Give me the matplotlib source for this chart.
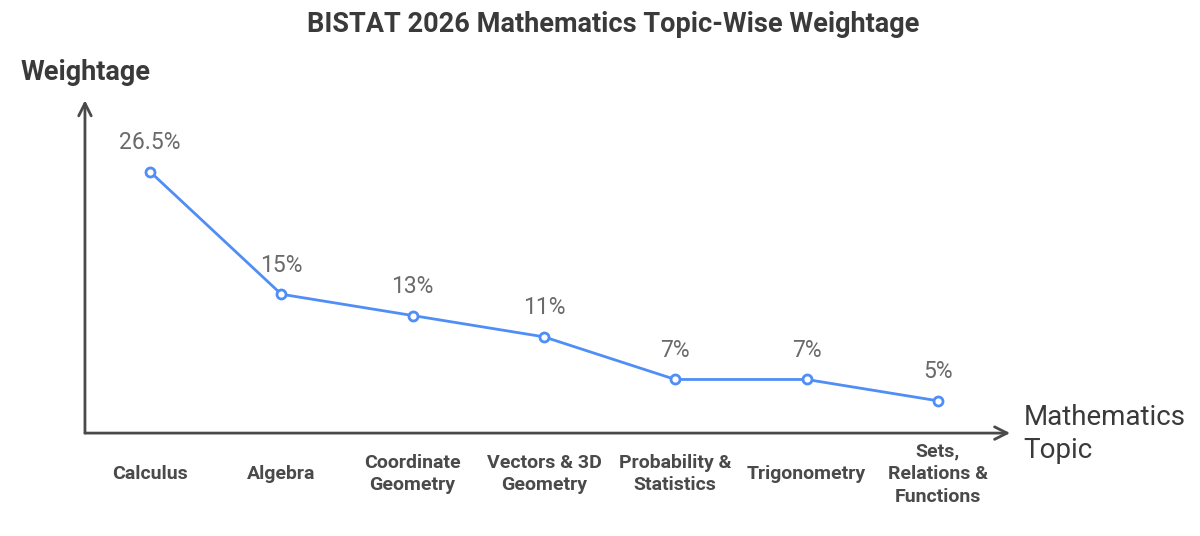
import matplotlib

matplotlib.use("Agg")
import matplotlib.pyplot as plt
from matplotlib.transforms import blended_transform_factory

# data
topics = [
    "Calculus",
    "Algebra",
    "Coordinate\nGeometry",
    "Vectors & 3D\nGeometry",
    "Probability &\nStatistics",
    "Trigonometry",
    "Sets,\nRelations &\nFunctions",
]
weightage = [26.5, 15, 13, 11, 7, 7, 5]
value_labels = ["26.5%", "15%", "13%", "11%", "7%", "7%", "5%"]

LINE_COLOR = "#4F8EF7"
AXIS_COLOR = "#4a4a4a"
TEXT_COLOR = "#3a3a3a"

plt.rcParams["font.family"] = ["Roboto", "DejaVu Sans"]

fig = plt.figure(figsize=(12.0, 5.36), dpi=100)
ax = fig.add_axes([0.0708, 0.192, 0.771, 0.621])

x = list(range(len(topics)))
ax.plot(x, weightage, color=LINE_COLOR, linewidth=2.0, marker="o",
        markersize=6.5, markerfacecolor="white", markeredgecolor=LINE_COLOR,
        markeredgewidth=2.0, zorder=3)

for xi, v, lab in zip(x, weightage, value_labels):
    ax.annotate(lab, (xi, v), xytext=(0, 21), textcoords="offset points",
                ha="center", va="center", fontsize=16.5, color="#6a6a6a")

ax.set_xlim(-0.495, 6.55)
ax.set_ylim(1.97, 33.2)
for s in ax.spines.values():
    s.set_visible(False)
ax.set_xticks([])
ax.set_yticks([])
ax.patch.set_alpha(0)

# axis arrows
ax.annotate("", xy=(0, 1.0), xytext=(0, 0), xycoords="axes fraction",
            arrowprops=dict(arrowstyle="->,head_length=0.9,head_width=0.45",
                            color=AXIS_COLOR, lw=2.0, shrinkA=0, shrinkB=0),
            annotation_clip=False)
ax.annotate("", xy=(1.0, 0), xytext=(0, 0), xycoords="axes fraction",
            arrowprops=dict(arrowstyle="->,head_length=0.9,head_width=0.45",
                            color=AXIS_COLOR, lw=2.0, shrinkA=0, shrinkB=0),
            annotation_clip=False)

# category labels under x axis
trans = blended_transform_factory(ax.transData, fig.transFigure)
for xi, t in zip(x, topics):
    ax.text(xi, 1 - 474 / 536, t, transform=trans, ha="center", va="center",
            fontsize=14, fontweight="bold", color="#4a4a4a", linespacing=1.35)

fig.text(0.511, 1 - 24 / 536, "BISTAT 2026 Mathematics Topic-Wise Weightage",
         ha="center", va="center", fontsize=19.5, fontweight="bold", color=TEXT_COLOR)
fig.text(0.017, 1 - 73 / 536, "Weightage", ha="left", va="center",
         fontsize=19.5, fontweight="bold", color=TEXT_COLOR)
fig.text(0.853, 1 - 434 / 536, "Mathematics\nTopic", ha="left", va="center",
         fontsize=20, color=TEXT_COLOR, linespacing=1.25)

fig.savefig("out.png", dpi=100)
